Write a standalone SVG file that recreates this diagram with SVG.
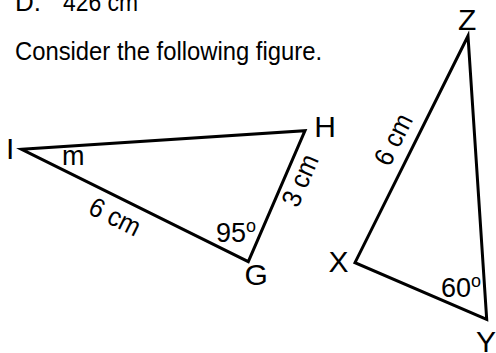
<svg xmlns="http://www.w3.org/2000/svg" width="496" height="353" viewBox="0 0 496 353">
<style>
  text { font-family: "Liberation Sans", Arial, sans-serif; fill: #000; }
  .body { font-size: 26px; }
  .vx { font-size: 30px; }
  .lbl { font-size: 27px; }
  .deg { font-size: 18px; }
  .edge { fill: none; stroke: #000; stroke-width: 3; stroke-linejoin: miter; stroke-linecap: butt; }
</style>
<rect width="496" height="353" fill="#fff"/>
<g id="text">
  <text class="body" x="15" y="11">D.</text>
  <text class="body" x="63" y="11" textLength="75" lengthAdjust="spacingAndGlyphs">426 cm</text>
  <text class="body" x="15" y="60" textLength="307" lengthAdjust="spacingAndGlyphs">Consider the following figure.</text>
</g>
<g id="connectors">
  <polygon class="edge" points="21.7,149.3 305,130.7 248.3,261.7"/>
  <polygon class="edge" points="468,36 486.7,319.3 355,262.7"/>
</g>
<g id="triangle-IGH">
  <text class="vx" x="6" y="158.5">I</text>
  <text class="vx" x="314.3" y="136.5">H</text>
  <text class="vx" x="244.5" y="285">G</text>
  <text class="lbl" x="62" y="165">m</text>
  <text class="lbl" x="111" y="225" text-anchor="middle" textLength="54" lengthAdjust="spacingAndGlyphs" transform="rotate(26.4 111 225)">6 cm</text>
  <text class="lbl" x="308.5" y="184" text-anchor="middle" textLength="54" lengthAdjust="spacingAndGlyphs" transform="rotate(-66.6 308.5 184)">3 cm</text>
  <text class="lbl" x="216" y="241.7">95<tspan class="deg" dy="-10">o</tspan></text>
</g>
<g id="triangle-XYZ">
  <text class="vx" x="458" y="30">Z</text>
  <text class="vx" x="328.5" y="271.5">X</text>
  <text class="vx" x="476" y="351.5">Y</text>
  <text class="lbl" x="401.5" y="143.5" text-anchor="middle" textLength="54" lengthAdjust="spacingAndGlyphs" transform="rotate(-63.5 401.5 143.5)">6 cm</text>
  <text class="lbl" x="441" y="297.3">60<tspan class="deg" dy="-10">o</tspan></text>
</g>
</svg>
